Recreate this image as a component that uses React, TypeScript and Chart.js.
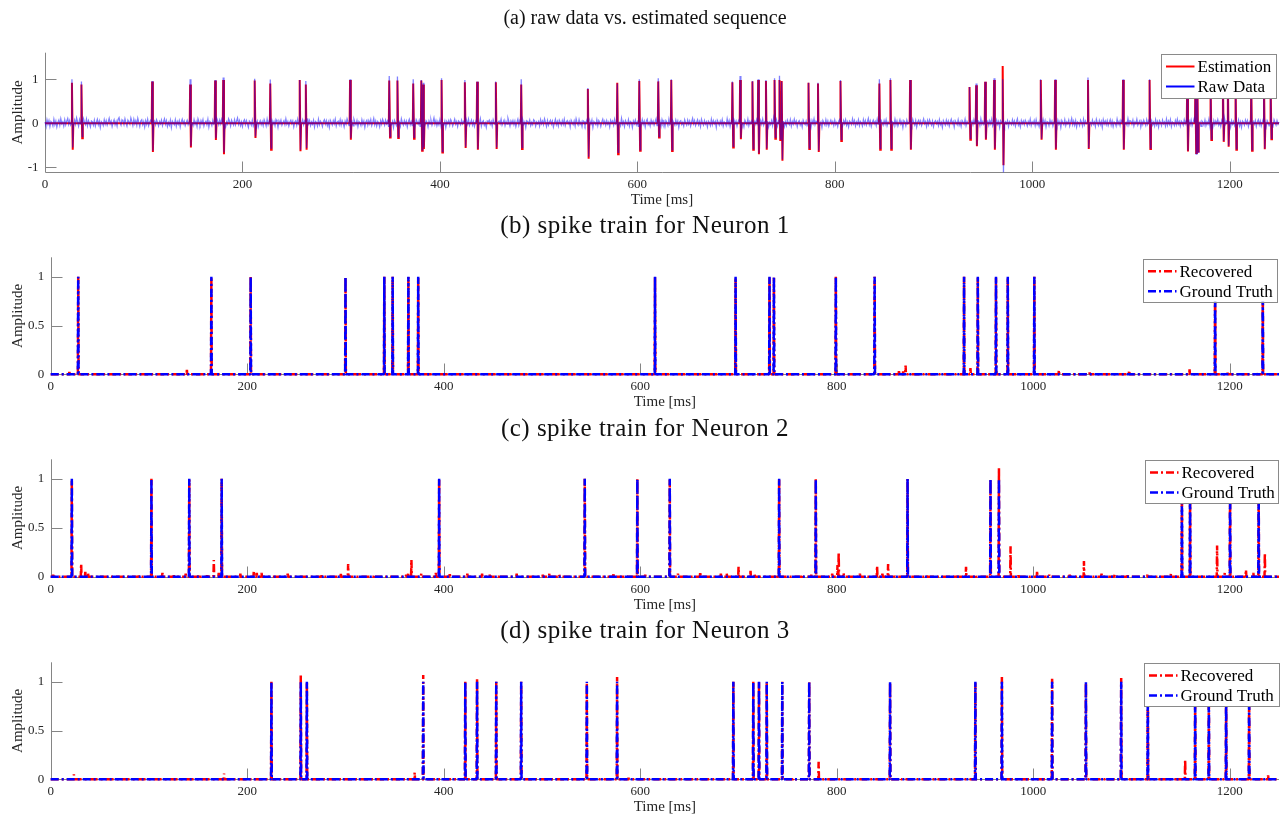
import React, { useEffect, useRef } from "react";
import { Chart, registerables } from "chart.js";

Chart.register(...registerables);

// ---------------- data ----------------
const X_MAX = 1250;
const X_TICKS = [0, 200, 400, 600, 800, 1000, 1200];
const RAW_Y_TICKS = [-1, 0, 1];
const TRAIN_Y_TICKS = [0, 0.5, 1];

// raw-data background noise, hundredths of amplitude, one sample per ms
const NOISE_STEP_MS = 1;
const RAW_NOISE = [
  3, -5, 8, -2, 6, -7, 4, 1, -6, 9, -3, 5, -8, 2, 7, -4, 10, -1, 3, -6, 8, -3, 5, 11, -2,
  6, -4, 9, 1, -5, 7, -2, 12, 3, -6, 8, -1, 4, -7, 10, 2, -3, 9, -5, 6, 0, -8, 5, 3, -4,
  7, -6, 2, 9, -3, 5, -9, 4, 1, -5, 8, -2, 6, -4, 3, 11, -1, 5, -7, 2, 8, -3, 4, -6, 9,
  13, 2, -4, 8, 5, -3, 10, 1, -6, 7, 3, -2, 12, 4, -5, 9, -1, 6, -4, 11, 2, -7, 5, 8, -3,
  4, -8, 6, -2, 9, -5, 3, 7, -4, 1, -9, 5, -3, 8, 2, -6, 4, -1, 7, -5, 3, 10, -2, 6, -7,
  2, -4, 7, -9, 5, 1, -3, 8, -6, 4, -2, 6, -8, 3, 9, -1, 5, -5, 2, 7, -3, 4, -10, 6, 1,
  -5, 8, -2, 4, -7, 10, 3, -4, 6, -1, 8, -6, 2, 5, -3, 9, -8, 4, 1, -5, 7, -2, 3, -6, 11,
  5, -3, 7, -1, 9, -4, 2, 6, -8, 3, -2, 10, 4, -6, 7, 1, -4, 8, -3, 5, 12, -2, 6, -5, 3,
  -7, 4, 8, -3, 6, -1, -9, 5, 2, -4, 7, -6, 3, 9, -2, 5, -8, 1, 6, -3, 4, -5, 8, 2, -6,
  9, -3, 5, 1, -7, 6, -2, 4, -5, 8, 3, -9, 5, -1, 7, -4, 2, 6, -3, 10, -2, 4, -6, 3, 7,
  -1, 5, -8, 3, 6, -4, 9, -2, 4, -6, 1, 8, -3, 5, -7, 2, 11, -1, 6, -5, 3, -2, 7, -8, 4,
  2, -6, 9, -3, 5, 1, -7, 4, 8, -2, 6, -5, 3, -9, 7, 2, -4, 6, -1, 9, -6, 3, 5, -3, 8,
  -4, 6, 1, -8, 5, -2, 10, 3, -5, 7, -1, 4, -6, 9, 2, -3, 6, -7, 4, 1, -5, 8, -2, 5, -9,
  3, 7, -4, 6, -1, 8, -5, 2, 11, -3, 5, -6, 4, 1, -8, 6, -2, 9, 3, -4, 7, -1, 5, -7, 2,
  6, -3, 4, -9, 7, 2, -5, 8, -1, 3, -6, 10, 1, -4, 6, -2, 5, -8, 3, 9, -3, 4, -5, 7, 0,
  -6, 8, 3, -2, 6, -7, 4, 1, -5, 9, -3, 6, 2, -8, 5, -1, 7, -4, 3, 12, -2, 6, -5, 4, -3,
  8, -5, 2, 7, -3, 5, -9, 4, -1, 6, -4, 8, 3, -6, 1, 9, -2, 4, -7, 5, 2, -3, 7, -1, 4,
  -8, 3, 6, -2, 9, -5, 1, 7, -4, 4, -7, 2, 8, -3, 5, -1, 10, -6, 3, 6, -4, 1, -9, 5, 3,
  7, -2, 4, -6, 8, 1, -3, 6, -8, 3, 5, -1, 9, -4, 2, 7, -5, 4, -2, 11, 3, -6, 5, -1, 6,
  -3, 5, -7, 2, 9, -4, 6, 1, -5, 8, -2, 3, -9, 6, 4, -1, 7, -5, 2, -3, 8, 5, -6, 3, -1,
  4, -6, 8, -1, 5, -3, 10, 2, -7, 6, -4, 3, 7, -2, 5, -8, 1, 9, -3, 4, -6, 7, 2, -4, 6,
  -2, 9, -5, 3, 6, -1, 4, -8, 7, 2, -3, 5, -6, 10, 1, -4, 8, -2, 3, -7, 6, 4, -5, 2, 8,
  -6, 3, 5, -2, 7, -9, 4, 1, -3, 8, -5, 6, 2, -7, 3, 9, -1, 5, -4, 6, -2, 3, -8, 7, 1,
  5, -4, 9, -1, 3, -6, 7, 2, -5, 11, -2, 4, -7, 6, 1, -3, 8, -6, 4, 2, -9, 5, -1, 7, -3,
  3, -7, 6, 1, -4, 8, -2, 5, -8, 4, 9, -3, 2, -6, 7, -1, 5, -4, 3, 10, -5, 6, -2, 4, -6,
  8, -1, 4, -7, 6, 2, -5, 9, -3, 3, -8, 6, 1, -4, 7, -2, 5, -9, 4, 6, -3, 2, -6, 8, 1,
  -4, 7, -2, 5, -6, 3, 11, -1, 6, -5, 2, 8, -3, 4, -7, 9, 1, -4, 6, -2, 3, -8, 5, 2, -5,
  9, -3, 6, -1, 4, -9, 7, 2, -4, 5, -2, 8, -6, 3, 1, -5, 10, -2, 6, -7, 4, 3, -3, 7, -1,
  5, -6, 3, 8, -2, 6, -4, 1, -8, 7, 2, -3, 9, -5, 4, -1, 6, -7, 3, 5, -2, 8, -4, 1, -6,
  6, -2, 9, -4, 3, 7, -1, 5, -8, 2, -3, 6, -5, 11, 3, -2, 7, -6, 4, -1, 8, -4, 2, 5, -7,
  3, -5, 7, 1, -3, 8, -6, 4, -2, 9, -1, 5, -7, 3, 6, -4, 2, -8, 7, 1, -3, 5, -5, 9, -2,
  4, -8, 6, -1, 10, -3, 5, 2, -6, 7, -2, 3, -9, 6, 1, -4, 8, -3, 5, -6, 2, 7, -1, 4, -5,
  7, -3, 2, -7, 5, 9, -2, 4, -5, 6, -1, 8, -4, 3, -8, 5, 2, -3, 10, -1, 6, -6, 3, -2, 8,
  -5, 4, 1, -6, 8, -2, 6, -4, 3, 11, -3, 5, -7, 2, 7, -1, 4, -5, 9, -2, 3, -8, 6, 1, -4,
  6, -2, 8, -5, 3, -1, 7, -7, 4, 2, -4, 9, -3, 5, -6, 1, 8, -2, 4, -9, 6, 3, -5, 7, -1,
  2, -6, 5, -3, 9, 1, -4, 6, -8, 3, 7, -2, 5, -5, 2, 10, -1, 4, -7, 6, -3, 8, 2, -4, 5,
  -7, 3, 6, -1, 4, -5, 8, -3, 2, -9, 6, 1, -4, 7, -2, 5, -6, 3, 9, -1, 4, -8, 6, 2, -3,
  8, -4, 3, -7, 6, 2, -2, 9, -5, 4, -1, 7, -6, 3, 5, -3, 8, -1, 2, -8, 6, 4, -5, 10, -2,
  4, -3, 7, -8, 2, 5, -4, 6, -1, 9, -6, 3, 1, -5, 7, -2, 4, -9, 6, 2, -3, 8, -5, 3, -1,
  6, -7, 4, 1, -3, 8, -2, 5, -6, 3, 10, -4, 2, -8, 6, -1, 5, -3, 7, 2, -6, 4, -2, 9, -5,
  3, -1, 6, -5, 8, -3, 2, -7, 5, 1, -4, 9, -2, 6, -8, 4, 3, -5, 7, -1, 5, -6, 2, 8, -3,
  -4, 7, -2, 4, -9, 6, 1, -3, 8, -5, 3, -1, 7, -6, 2, 11, -3, 5, -4, 6, -8, 3, 1, -5, 7,
  2, -6, 9, -3, 5, -1, 4, -8, 6, 2, -4, 7, -2, 3, -7, 9, 1, -5, 6, -3, 4, -9, 8, -1, 5,
  -3, 6, -5, 2, 8, -4, 5, -7, 3, 1, -6, 9, -2, 4, -5, 7, 3, -8, 6, -1, 2, -4, 10, -3, 6,
  5, -2, 7, -6, 3, -1, 9, -4, 2, 6, -8, 4, -3, 7, 1, -5, 8, -2, 5, -7, 3, 6, -4, 2, -6,
  8, -3, 4, -8, 6, 2, -5, 7, -1, 3, -6, 9, -4, 5, -2, 8, -7, 3, 1, -5, 6, -3, 9, -2, 4,
  -6, 5, 2, -4, 8, -1, 6, -9, 3, 5, -3, 7, -5, 2, 10, -2, 4, -6, 8, -1, 3, -7, 5, 2, -4,
  7, -5, 3, -2, 9, -6, 4, 1, -8, 6, -3, 5, -1, 8, -4, 2, -7, 6, 3, -5, 9, -2, 4, -6, 1,
  5, -8, 6, -2, 4, -5, 8, 1, -3, 7, -6, 3, -9, 5, 2, -4, 7, -1, 6, -7, 3, -2, 9, -4, 4,
  -2, 6, -7, 3, 8, -3, 5, -6, 2, 9, -1, 4, -8, 6, 1, -5, 7, -3, 4, -6, 8, 2, -4, 6, -2,
  3,
];

// spikes in the raw / estimated sequence (ms)
const SPIKE_TIMES = [
  27.3, 36.9, 108.5, 147, 172.3, 180.5, 212.4, 228.2, 258, 264.2,
  309, 348.7, 357, 373, 381.2, 383, 401.7, 425.3, 437.7, 456.7,
  482.4, 549.9, 579.7, 602, 621.2, 634.4, 696.3, 704.1, 716.6, 722.4,
  730.3, 739, 744, 746.2, 773.4, 783, 805.8, 845.2, 856.4, 876.3,
  936.5, 943.2, 952.3, 961.4, 970.1, 1008.7, 1023.2, 1056.5, 1092, 1118.9,
  1157, 1165.3, 1167.3, 1180.7, 1193.2, 1198.2, 1206, 1221.9, 1234.8, 1241.5,
];
const EST_PEAK = [
  0.92, 0.88, 0.95, 0.88, 0.97, 0.98, 0.97, 0.9, 0.98, 0.88,
  0.98, 0.97, 0.97, 0.9, 0.97, 0.88, 0.98, 0.93, 0.94, 0.93,
  0.88, 0.78, 0.92, 0.96, 0.95, 0.98, 0.93, 0.98, 0.95, 0.98,
  0.96, 0.98, 0.98, 0.96, 0.92, 0.9, 0.96, 0.9, 0.98, 0.98,
  0.82, 0.86, 0.94, 0.98, 1.3, 0.98, 0.98, 0.98, 0.98, 0.98,
  1.0, 1.0, 0.98, 0.98, 0.98, 0.98, 0.98, 0.98, 0.98, 0.98,
];
const EST_TROUGH = [
  -0.6, -0.34, -0.65, -0.55, -0.38, -0.7, -0.33, -0.6, -0.63, -0.6,
  -0.37, -0.32, -0.33, -0.35, -0.62, -0.58, -0.66, -0.56, -0.6, -0.58,
  -0.58, -0.8, -0.7, -0.62, -0.32, -0.63, -0.55, -0.36, -0.6, -0.7,
  -0.6, -0.35, -0.38, -0.85, -0.58, -0.65, -0.4, -0.6, -0.6, -0.6,
  -0.37, -0.52, -0.37, -0.6, -0.95, -0.37, -0.6, -0.58, -0.6, -0.58,
  -0.64, -0.67, -0.64, -0.38, -0.42, -0.53, -0.6, -0.62, -0.59, -0.36,
];
const RAW_PEAK = [
  1.0, 0.95, 0.96, 1.0, 0.98, 1.04, 1.01, 0.99, 0.98, 0.96,
  1.0, 1.07, 1.06, 1.0, 0.98, 0.92, 1.02, 0.98, 0.95, 0.95,
  1.0, 0.8, 0.9, 1.0, 1.02, 1.0, 0.95, 1.07, 0.96, 1.0,
  0.98, 1.02, 1.08, 0.95, 0.92, 0.92, 0.98, 1.0, 1.02, 0.98,
  0.82, 0.9, 0.94, 1.02, 1.0, 1.0, 1.0, 1.04, 1.0, 1.0,
  1.02, 1.02, 1.0, 1.0, 1.0, 1.0, 1.0, 1.0, 1.0, 1.0,
];
const RAW_TROUGH = [
  -0.55, -0.3, -0.62, -0.52, -0.34, -0.66, -0.3, -0.56, -0.6, -0.56,
  -0.34, -0.3, -0.31, -0.32, -0.6, -0.55, -0.64, -0.53, -0.58, -0.55,
  -0.55, -0.76, -0.66, -0.6, -0.3, -0.6, -0.52, -0.33, -0.58, -0.68,
  -0.57, -0.32, -0.36, -0.82, -0.56, -0.62, -0.37, -0.57, -0.57, -0.58,
  -0.34, -0.5, -0.35, -0.57, -1.11, -0.35, -0.57, -0.56, -0.58, -0.56,
  -0.62, -0.7, -0.66, -0.36, -0.4, -0.51, -0.58, -0.6, -0.57, -0.34,
];

// Neuron 1
const N1_TRUE = [28, 163.5, 203.5, 300, 339.5, 348, 364, 374, 615, 697, 731.5, 736, 799, 838.5, 929.5, 943.5, 962, 974, 1001, 1185, 1233.5];
const N1_REC: [number, number][] = [
  [19, 0.025], [28, 1], [138.6, 0.045], [163.5, 0.99], [203.5, 1], [300, 0.99], [339.5, 1], [348, 1],
  [364, 1], [374, 1], [615, 1], [697, 0.99], [731.5, 1], [736, 0.99], [799, 1], [838.5, 1],
  [863.3, 0.045], [867.5, 0.03], [870, 0.09], [929.5, 1], [936, 0.064], [943.5, 0.99], [962, 0.99],
  [974, 0.99], [1001, 1], [1026, 0.045], [1053, 0.025], [1057.3, 0.02], [1097.5, 0.04], [1159, 0.05],
  [1185, 1], [1197.7, 0.015], [1226.8, 0.015], [1233.5, 1],
];

// Neuron 2
const N2_TRUE = [21.5, 102.5, 141, 174, 395.3, 543.5, 597, 630, 741.3, 778.6, 872, 956.4, 965, 1151.2, 1159.5, 1200.2, 1229.3];
const N2_REC: [number, number][] = [
  [2.5, 0.02], [21.5, 0.99], [31, 0.13], [35.2, 0.05], [38, 0.04], [48, 0.01], [89.6, 0.01], [102.5, 1],
  [113.7, 0.04], [125.3, 0.015], [137.4, 0.03], [141, 0.99], [150.7, 0.02], [159.4, 0.015], [166, 0.17],
  [171, 0.04], [174, 1], [193, 0.03], [206.7, 0.06], [209.7, 0.04], [214.6, 0.04], [241.2, 0.03],
  [275.7, 0.015], [295.2, 0.04], [302.7, 0.13], [329.3, 0.02], [361.7, 0.02], [363.8, 0.04], [367.1, 0.17],
  [377.1, 0.03], [392, 0.04], [395.3, 1], [406.1, 0.04], [424, 0.03], [439, 0.03], [446.8, 0.02],
  [456.4, 0.02], [474.2, 0.03], [500.8, 0.02], [507.5, 0.03], [517.5, 0.02], [543.5, 1], [572.7, 0.04],
  [588, 0.025], [597, 1], [605, 0.02], [630, 0.99], [638.3, 0.03], [661, 0.05], [682, 0.03], [688, 0.03],
  [700, 0.1], [712.2, 0.06], [716.3, 0.03], [738, 0.02], [741.3, 1], [765, 0.02], [774, 0.02], [778.6, 1],
  [795.3, 0.03], [800.7, 0.12], [801.9, 0.25], [806.9, 0.04], [823.5, 0.03], [841, 0.11], [846.4, 0.03],
  [852.2, 0.13], [858.4, 0.02], [872, 1], [891.6, 0.01], [920.7, 0.02], [931.5, 0.1], [941.5, 0.02],
  [956.4, 0.99], [965, 1.11], [976.8, 0.31], [985, 0.03], [1003.8, 0.06], [1016.2, 0.02], [1037, 0.02],
  [1051.5, 0.16], [1069.4, 0.03], [1082.7, 0.02], [1096, 0.03], [1115.9, 0.02], [1140, 0.03], [1151.2, 1],
  [1159.5, 1], [1187, 0.32], [1194.8, 0.04], [1200.2, 1], [1216.4, 0.07], [1223.9, 0.04], [1229.3, 1],
  [1235.6, 0.24], [1246.8, 0.02],
];

// Neuron 3
const N3_TRUE = [224.6, 254.5, 260.7, 379.1, 421.9, 433.9, 453.4, 478.8, 545.6, 576.4, 694.7, 715, 720.8, 728.7, 744.5, 771.9, 854.2, 941, 968, 1019.1, 1053.5, 1089.4, 1116.5, 1164.7, 1178.6, 1196.2, 1219.6];
const N3_REC: [number, number][] = [
  [23.6, 0.05], [176.4, 0.06], [224.6, 1], [254.5, 1.08], [260.7, 1], [370.4, 0.07], [379.1, 1.07],
  [421.9, 1], [433.9, 1.03], [453.4, 1], [478.8, 1], [545.6, 0.99], [576.4, 1.05], [588, 0.015],
  [694.7, 1], [715, 1], [720.8, 1], [728.7, 1], [744.5, 1], [756, 0.012], [771.9, 1], [781.5, 0.18],
  [854.2, 0.99], [865, 0.01], [941, 0.99], [968, 1.05], [1019.1, 1.03], [1053.5, 0.99], [1074, 0.012],
  [1089.4, 1.04], [1116.5, 1], [1154.5, 0.2], [1164.7, 1], [1178.6, 1], [1196.2, 1], [1219.6, 1],
  [1238.9, 0.04],
];

// ---------------- styling ----------------
const RED = "#ff0000";
const BLUE = "#0000ff";
const RAW_BLUE = "rgba(0, 0, 255, 0.5)";
const AXIS_COLOR = "#858585";
const TEXT_COLOR = "#262626";
const LEGEND_BORDER = "#8a8a8a";
const SERIF = '"Liberation Serif", "Times New Roman", serif';
const DASH_DOT = [8, 3, 2, 3];
const TICK_LEN = 11;
const SPIKE_HALF_WIDTH = 0.35;

type Pt = { x: number; y: number };

function rawPoints(): Pt[] {
  const pts: Pt[] = [];
  RAW_NOISE.forEach((v, i) => {
    const x = i * NOISE_STEP_MS;
    const near = SPIKE_TIMES.some((t) => x > t - 0.6 && x < t + 1.6);
    if (!near) pts.push({ x, y: v / 100 });
  });
  SPIKE_TIMES.forEach((t, k) => {
    pts.push({ x: t - 0.4, y: 0 }, { x: t, y: RAW_PEAK[k] }, { x: t + 0.8, y: RAW_TROUGH[k] }, { x: t + 1.4, y: 0 });
  });
  pts.sort((a, b) => a.x - b.x);
  return pts;
}

function estPoints(): Pt[] {
  const pts: Pt[] = [{ x: 0, y: 0 }];
  SPIKE_TIMES.forEach((t, k) => {
    pts.push({ x: t - 0.4, y: 0 }, { x: t, y: EST_PEAK[k] }, { x: t + 0.8, y: EST_TROUGH[k] }, { x: t + 1.4, y: 0 });
  });
  pts.push({ x: X_MAX, y: 0 });
  return pts;
}

function trainPoints(spikes: [number, number][]): Pt[] {
  const s = [...spikes].sort((a, b) => a[0] - b[0]);
  const pts: Pt[] = [{ x: 0, y: 0 }];
  for (const [t, a] of s)
    pts.push({ x: t - SPIKE_HALF_WIDTH, y: 0 }, { x: t, y: a }, { x: t + SPIKE_HALF_WIDTH, y: 0 });
  pts.push({ x: X_MAX, y: 0 });
  return pts;
}

type LegendItem = { label: string; color: string; dash: boolean };

type Panel = {
  key: string;
  top: number;
  height: number;
  pad: { left: number; right: number; top: number; bottom: number };
  yMin: number;
  yMax: number;
  yTicks: number[];
  title: string;
  titleBase: number;
  titleFont: number;
  titleSpacing: number;
  legend: LegendItem[];
  legendLeft: number;
  legendWidth: number;
  legendTopOff: number;
  legendHeight: number;
  datasets: () => any[];
};

const trainDatasets = (truth: number[], rec: [number, number][]) => () => [
  {
    label: "Recovered",
    data: trainPoints(rec),
    borderColor: RED,
    borderWidth: 2.5,
    borderDash: DASH_DOT,
    borderJoinStyle: "bevel",
    pointRadius: 0,
    tension: 0,
    order: 2,
    clip: 3,
  },
  {
    label: "Ground Truth",
    data: trainPoints(truth.map((t) => [t, 1] as [number, number])),
    borderColor: BLUE,
    borderWidth: 2.5,
    borderDash: DASH_DOT,
    borderJoinStyle: "bevel",
    pointRadius: 0,
    tension: 0,
    order: 1,
    clip: 3,
  },
];

const TRAIN_LEGEND: LegendItem[] = [
  { label: "Recovered", color: RED, dash: true },
  { label: "Ground Truth", color: BLUE, dash: true },
];

const PANELS: Panel[] = [
  {
    key: "a",
    top: 0,
    height: 215,
    pad: { left: 45, right: 2, top: 52.7, bottom: 42.7 },
    yMin: -1.11,
    yMax: 1.6,
    yTicks: RAW_Y_TICKS,
    title: "(a) raw data vs. estimated sequence",
    titleBase: 24,
    titleFont: 20,
    titleSpacing: 0,
    legend: [
      { label: "Estimation", color: RED, dash: false },
      { label: "Raw Data", color: BLUE, dash: false },
    ],
    legendLeft: 1161,
    legendWidth: 115,
    legendTopOff: 1.3,
    legendHeight: 44,
    datasets: () => [
      {
        label: "Estimation",
        data: estPoints(),
        borderColor: RED,
        borderWidth: 2,
        pointRadius: 0,
        tension: 0,
        order: 2,
        clip: 2,
      },
      {
        label: "Raw Data",
        data: rawPoints(),
        borderColor: RAW_BLUE,
        borderWidth: 1.3,
        pointRadius: 0,
        tension: 0,
        order: 1,
        clip: 2,
      },
    ],
  },
  {
    key: "b",
    top: 215,
    height: 202,
    pad: { left: 50.7, right: 2, top: 42.3, bottom: 42.7 },
    yMin: 0,
    yMax: 1.2,
    yTicks: TRAIN_Y_TICKS,
    title: "(b) spike train for Neuron 1",
    titleBase: 18.3,
    titleFont: 25,
    titleSpacing: 0.5,
    legend: TRAIN_LEGEND,
    legendLeft: 1143,
    legendWidth: 134,
    legendTopOff: 1.5,
    legendHeight: 43,
    datasets: trainDatasets(N1_TRUE, N1_REC),
  },
  {
    key: "c",
    top: 417,
    height: 202,
    pad: { left: 50.7, right: 2, top: 42.3, bottom: 42.3 },
    yMin: 0,
    yMax: 1.2,
    yTicks: TRAIN_Y_TICKS,
    title: "(c) spike train for Neuron 2",
    titleBase: 19,
    titleFont: 25,
    titleSpacing: 0.5,
    legend: TRAIN_LEGEND,
    legendLeft: 1145,
    legendWidth: 133,
    legendTopOff: 0.8,
    legendHeight: 43,
    datasets: trainDatasets(N2_TRUE, N2_REC),
  },
  {
    key: "d",
    top: 619,
    height: 197,
    pad: { left: 50.7, right: 2, top: 43.3, bottom: 36.7 },
    yMin: 0,
    yMax: 1.2,
    yTicks: TRAIN_Y_TICKS,
    title: "(d) spike train for Neuron 3",
    titleBase: 19.3,
    titleFont: 25,
    titleSpacing: 0.5,
    legend: TRAIN_LEGEND,
    legendLeft: 1144,
    legendWidth: 135,
    legendTopOff: 0.8,
    legendHeight: 43,
    datasets: trainDatasets(N3_TRUE, N3_REC),
  },
];

function decorPlugin(p: Panel) {
  return {
    id: "decor_" + p.key,
    beforeDatasetsDraw(chart: any) {
      const { ctx, chartArea: ca } = chart;
      const xs = chart.scales.x;
      const ys = chart.scales.y;
      ctx.save();
      ctx.strokeStyle = AXIS_COLOR;
      ctx.lineWidth = 1;
      ctx.beginPath();
      const lx = Math.round(ca.left) + 0.5;
      const by = Math.round(ca.bottom) + 0.5;
      ctx.moveTo(lx, ca.top);
      ctx.lineTo(lx, by);
      ctx.lineTo(ca.right, by);
      for (const v of p.yTicks) {
        const y = Math.round(ys.getPixelForValue(v)) + 0.5;
        ctx.moveTo(lx, y);
        ctx.lineTo(lx + TICK_LEN, y);
      }
      for (const v of X_TICKS) {
        if (v === 0) continue;
        const x = Math.round(xs.getPixelForValue(v)) + 0.5;
        ctx.moveTo(x, by);
        ctx.lineTo(x, by - TICK_LEN);
      }
      ctx.stroke();
      ctx.restore();
    },
    afterDatasetsDraw(chart: any) {
      const { ctx, chartArea: ca } = chart;
      const xs = chart.scales.x;
      const ys = chart.scales.y;
      ctx.save();
      // tick labels
      ctx.fillStyle = TEXT_COLOR;
      ctx.font = `13px ${SERIF}`;
      ctx.textAlign = "right";
      ctx.textBaseline = "middle";
      for (const v of p.yTicks) ctx.fillText(String(v), ca.left - 6.5, ys.getPixelForValue(v));
      ctx.textAlign = "center";
      for (const v of X_TICKS) ctx.fillText(String(v), xs.getPixelForValue(v), ca.bottom + 12.5);
      // axis titles
      ctx.font = `15px ${SERIF}`;
      ctx.fillText("Time [ms]", (ca.left + ca.right) / 2, ca.bottom + 28);
      ctx.save();
      ctx.translate(18.5, (ca.top + ca.bottom) / 2);
      ctx.rotate(-Math.PI / 2);
      ctx.fillText("Amplitude", 0, 0);
      ctx.restore();
      // panel title
      ctx.fillStyle = "#111";
      ctx.font = `${p.titleFont}px ${SERIF}`;
      (ctx as any).letterSpacing = `${p.titleSpacing}px`;
      ctx.textBaseline = "alphabetic";
      ctx.fillText(p.title, 645, p.titleBase);
      (ctx as any).letterSpacing = "0px";
      // legend
      const lx = p.legendLeft;
      const ly = ca.top + p.legendTopOff;
      ctx.fillStyle = "#ffffff";
      ctx.fillRect(lx, ly, p.legendWidth, p.legendHeight);
      ctx.strokeStyle = LEGEND_BORDER;
      ctx.lineWidth = 1;
      ctx.strokeRect(Math.round(lx) + 0.5, Math.round(ly) + 0.5, Math.round(p.legendWidth), Math.round(p.legendHeight));
      ctx.font = `17px ${SERIF}`;
      ctx.textAlign = "left";
      ctx.textBaseline = "middle";
      p.legend.forEach((it, i) => {
        const y = ly + 12.5 + i * 20;
        ctx.beginPath();
        ctx.strokeStyle = it.color;
        ctx.lineWidth = it.dash ? 2.5 : 2;
        ctx.setLineDash(it.dash ? DASH_DOT : []);
        ctx.moveTo(lx + 5, y);
        ctx.lineTo(lx + 33.5, y);
        ctx.stroke();
        ctx.setLineDash([]);
        ctx.fillStyle = "#000";
        ctx.fillText(it.label, lx + 36.5, y + 1);
      });
      ctx.restore();
    },
  };
}

function PanelChart({ p }: { p: Panel }) {
  const ref = useRef<HTMLCanvasElement | null>(null);
  useEffect(() => {
    if (!ref.current) return;
    const chart = new Chart(ref.current, {
      type: "line",
      data: { datasets: p.datasets() },
      options: {
        responsive: false,
        animation: false,
        events: [],
        devicePixelRatio: 1,
        layout: { padding: p.pad },
        scales: {
          x: { type: "linear", min: 0, max: X_MAX, display: false },
          y: { type: "linear", min: p.yMin, max: p.yMax, display: false },
        },
        plugins: {
          legend: { display: false },
          tooltip: { enabled: false },
          title: { display: false },
        },
      } as any,
      plugins: [decorPlugin(p)],
    });
    return () => chart.destroy();
  }, [p]);
  return (
    <canvas
      ref={ref}
      width={1281}
      height={p.height}
      style={{ position: "absolute", left: 0, top: p.top, width: 1281, height: p.height }}
    />
  );
}

export default function App() {
  useEffect(() => {
    document.body.style.margin = "0";
    document.body.style.background = "#ffffff";
  }, []);
  return (
    <div style={{ position: "relative", width: 1281, height: 816, background: "#ffffff", overflow: "hidden" }}>
      {PANELS.map((p) => (
        <PanelChart key={p.key} p={p} />
      ))}
    </div>
  );
}
